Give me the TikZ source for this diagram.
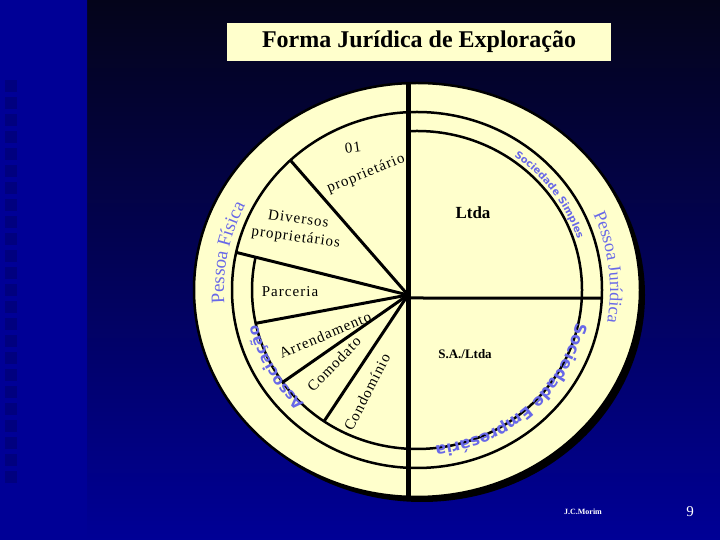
\documentclass[tikz,border=0pt]{standalone}
\usepackage{fontspec}
\setmainfont{Liberation Serif}
\setsansfont{Liberation Sans}
\newfontfamily\spaced[LetterSpace=7]{Liberation Serif}
\newfontfamily\heavy{DejaVu Sans}
\usepackage{tikz}
\usetikzlibrary{decorations.text}
\definecolor{cream}{RGB}{255,255,204}
\definecolor{lav}{RGB}{104,104,232}
\definecolor{navy}{RGB}{0,0,150}
\definecolor{night}{RGB}{4,4,26}

\begin{document}
\begin{tikzpicture}[x=1pt,y=1pt]
          \tikzstyle{ring} = [draw=black, line width=2.5pt]
          \tikzstyle{spoke} = [draw=black, line width=3pt]
          \tikzstyle{lbl} = [inner sep=0pt, font=\spaced\fontsize{15}{18}\selectfont]
          \tikzstyle{bold lbl} = [inner sep=0pt, font=\bfseries\fontsize{17}{19}\selectfont]
        \useasboundingbox (0,0) rectangle (720,540);
        % background
        \shade[top color=night, bottom color=navy] (87,0) rectangle (720,540);
        \shade[top color=navy, middle color=black, bottom color=navy] (0,0) rectangle (87,540);
        \foreach \i in {0,...,23}
          \fill[navy!75!black, opacity=.6] (5,{448-17*\i}) rectangle +(12,12);
        % title
        \node[fill=cream, minimum width=384pt, minimum height=38pt, font=\bfseries\fontsize{24}{26}\selectfont] (title) at (419,498) {Forma Jurídica de Exploração};
        % the wheel
        \coordinate (c) at (417,250);
        \fill[black] ([shift={(5,-5)}]c) ellipse [x radius=223, y radius=207];
        \filldraw[fill=cream, ring] (c) ellipse [x radius=223, y radius=207];
        \draw[ring] (c) ellipse [x radius=185, y radius=178];
        \draw[ring] ([shift={(c)}]93:165 and 159) arc[start angle=93, end angle=-192.2, x radius=165, y radius=159];
        \coordinate (hub) at (408,245);
        \coordinate (top) at (408,457);
        \coordinate (bot) at (408,43);
        \coordinate (hr) at (408,242);
        \coordinate (h1) at ([shift={(c)}]-2.6:185 and 178);
        \coordinate (d1) at ([shift={(c)}]133.2:185 and 178);
        \coordinate (d2) at ([shift={(c)}]167.8:185 and 178);
        \coordinate (d3) at ([shift={(c)}]192.1:165 and 159);
        \coordinate (d4) at ([shift={(c)}]215.5:165 and 159);
        \coordinate (d5) at ([shift={(c)}]235.7:165 and 159);
        \begin{scope}
          \draw[line width=5pt] (top) -- (bot);
          \draw[spoke] (hr) -- (h1);
          \draw[spoke] (hub) -- (d1);
          \draw[spoke] (hub) -- (d2);
          \draw[spoke] (hub) -- (d3);
          \draw[spoke] (hub) -- (d4);
          \draw[spoke] (hub) -- (d5);
        \end{scope}
        % sector labels
        \node[lbl, rotate=8] (n01) at (353,392) {01};
        \node[lbl, rotate=22] (prop) at (366,366) {proprietário};
        \node[lbl, rotate=-8, align=center] (div) at (297,311) {Diversos\\proprietários};
        \node[lbl] (parc) at (290,248) {Parceria};
        \node[lbl, rotate=23] (arr) at (325,205) {Arrendamento};
        \node[lbl, rotate=46] (com) at (334,176) {Comodato};
        \node[lbl, rotate=63] (cond) at (367,148) {Condomínio};
        \node[bold lbl] (ltda) at (473,327) {Ltda};
        \node[bold lbl, font=\bfseries\fontsize{13}{15}\selectfont] (sa) at (465,186) {S.A./Ltda};
        % curved labels
        \path[decorate, decoration={text along path, text align=center,
          text={|\fontsize{19}{21}\selectfont\color{lav}|Pessoa Física}}]
          ([shift={(c)}]192:193 and 186) arc[start angle=192, end angle=145, x radius=193, y radius=186];
        \path[decorate, decoration={text along path, text align=center,
          text={|\fontsize{18}{20}\selectfont\color{lav}|Pessoa Jurídica}}]
          ([shift={(c)}]30:193 and 186) arc[start angle=30, end angle=-16, x radius=193, y radius=186];
        \path[decorate, decoration={text along path, text align=center,
          text={|\heavy\bfseries\fontsize{10}{11}\selectfont\color{lav}|Sociedade Simples}}]
          ([shift={(c)}]62:169 and 163) arc[start angle=62, end angle=11, x radius=169, y radius=163];
        \path[decorate, decoration={text along path, text align=center,
          text={|\heavy\bfseries\fontsize{15}{17}\selectfont\color{lav}|Associação}}]
          ([shift={(c)}]238:163 and 157) arc[start angle=238, end angle=181, x radius=163, y radius=157];
        \path[decorate, decoration={text along path, text align=center,
          text={|\heavy\bfseries\fontsize{16}{18}\selectfont\color{lav}|Sociedade Empresária}}]
          ([shift={(c)}]2:163 and 157) arc[start angle=2, end angle=-97, x radius=163, y radius=157];
        % footer
        \node[text=white, font=\bfseries\fontsize{8}{9}\selectfont] (aut) at (583,28) {J.C.Morim};
        \node[text=white, font=\fontsize{15}{17}\selectfont] (pg) at (690,28) {9};
      \end{tikzpicture}
\end{document}
